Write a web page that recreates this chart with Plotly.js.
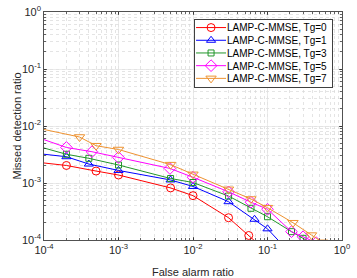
<!DOCTYPE html>
<html>
<head>
<meta charset="utf-8">
<script src="https://cdn.plot.ly/plotly-3.0.1.min.js"></script>
<style>html,body{margin:0;padding:0;background:#fff;}#chart{width:357px;height:278px;}</style>
</head>
<body>
<div id="chart"></div>
<script>
// Series data (false alarm ratio, missed detection ratio); first/last points lie just outside the axes
const seriesNames = ['LAMP-C-MMSE, Tg=0','LAMP-C-MMSE, Tg=1','LAMP-C-MMSE, Tg=3','LAMP-C-MMSE, Tg=5','LAMP-C-MMSE, Tg=7'];
const faTg0 = [8e-5, 2e-4, 5e-4, 1e-3, 5e-3, 1e-2, 3e-2, 5.6e-2, 8e-2];
const mdTg0 = [2.32e-3, 2.03e-3, 1.62e-3, 1.38e-3, 8.2e-4, 6.0e-4, 2.46e-4, 1.2e-4, 7.9e-5];
const faTg1 = [8e-5, 2e-4, 4e-4, 1e-3, 5e-3, 1e-2, 3e-2, 6.7e-2, 1e-1, 2e-1];
const mdTg1 = [3.30e-3, 2.89e-3, 2.15e-3, 1.66e-3, 1.13e-3, 8.7e-4, 4.7e-4, 2.31e-4, 1.57e-4, 5.96e-5];
const faTg3 = [8e-5, 2e-4, 4e-4, 1e-3, 5e-3, 1e-2, 3e-2, 6e-2, 1e-1, 2.1e-1, 3e-1, 4e-1];
const mdTg3 = [4.46e-3, 3.19e-3, 2.71e-3, 2.07e-3, 1.20e-3, 1.02e-3, 5.9e-4, 3.6e-4, 2.56e-4, 1.40e-4, 1.07e-4, 8.6e-5];
const faTg5 = [8e-5, 2e-4, 4.4e-4, 1e-3, 4.9e-3, 1e-2, 3e-2, 6e-2, 1e-1, 2.1e-1, 3e-1, 4.5e-1];
const mdTg5 = [6.38e-3, 4.2e-3, 3.54e-3, 2.8e-3, 1.80e-3, 1.26e-3, 7.0e-4, 4.6e-4, 3.46e-4, 1.40e-4, 1.14e-4, 9.0e-5];
const faTg7 = [8e-5, 3e-4, 5e-4, 1e-3, 5e-3, 1e-2, 3e-2, 6e-2, 1e-1, 2.2e-1, 3.9e-1, 5.5e-1];
const mdTg7 = [9.25e-3, 6.41e-3, 4.51e-3, 3.87e-3, 2.10e-3, 1.42e-3, 7.75e-4, 5.24e-4, 3.69e-4, 2.01e-4, 1.22e-4, 9.1e-5];
const tickVals = [1e-4, 1e-3, 1e-2, 1e-1, 1];
const tickText = ['10<sup>-4</sup>','10<sup>-3</sup>','10<sup>-2</sup>','10<sup>-1</sup>','10<sup>0</sup>'];

const xs = [faTg0, faTg1, faTg3, faTg5, faTg7];
const ys = [mdTg0, mdTg1, mdTg3, mdTg5, mdTg7];
const colors = ['#ff0000', '#0000ff', '#22962a', '#ff00ff', '#ee9230'];
const symbols = ['circle-open', 'triangle-up-open', 'square-open', 'diamond-open', 'triangle-down-open'];
const sizes = [8, 8, 6, 9, 9];

const traces = xs.map((x, i) => ({
  x: x, y: ys[i], name: seriesNames[i], type: 'scatter', mode: 'lines+markers',
  line: {color: colors[i], width: 1},
  marker: {symbol: symbols[i], size: sizes[i], color: colors[i], line: {color: colors[i], width: 1}},
  cliponaxis: true
}));

const axisCommon = {
  type: 'log',
  tickmode: 'array', tickvals: tickVals, ticktext: tickText,
  ticks: 'inside', ticklen: 3, tickcolor: '#262626', tickwidth: 0.7,
  showline: true, linecolor: '#262626', linewidth: 0.8, mirror: 'ticks',
  showgrid: true, gridcolor: '#e3e3e3', gridwidth: 0.7,
  zeroline: false,
  tickfont: {family: 'Liberation Sans, Arial, sans-serif', size: 11, color: '#262626'},
  minor: {tickmode: 'linear', dtick: 'D1', ticks: 'inside', ticklen: 2, tickcolor: '#262626',
          showgrid: true, gridcolor: '#d8d8d8', griddash: 'dot', gridwidth: 0.7}
};

const layout = {
  width: 357, height: 278,
  margin: {l: 44, r: 15, t: 12, b: 38},
  paper_bgcolor: '#ffffff', plot_bgcolor: '#ffffff',
  font: {family: 'Liberation Sans, Arial, sans-serif', size: 10, color: '#262626'},
  xaxis: Object.assign({}, axisCommon, {range: [-4, 0],
    title: {text: 'False alarm ratio', font: {size: 11, color: '#262626'}, standoff: 16}}),
  yaxis: Object.assign({}, axisCommon, {range: [-4, 0],
    title: {text: 'Missed detection ratio', font: {size: 11, color: '#262626'}, standoff: 1}}),
  showlegend: true,
  legend: {x: 0.97, y: 0.969, xanchor: 'right', yanchor: 'top',
    bgcolor: '#ffffff', bordercolor: '#404040', borderwidth: 1,
    font: {family: 'Liberation Sans, Arial, sans-serif', size: 10, color: '#000000'}, tracegroupgap: 0, itemwidth: 30}
};

const ROW_H = 12.7;
const LEGEND_H = 68;
const LEGEND_TRIM_LEFT = 8;
const SYMBOL_SHIFT = 4;
Plotly.newPlot('chart', traces, layout, {staticPlot: true, displayModeBar: false}).then(() => {
  // tighten legend spacing to match the reference
  const lg = document.querySelector('g.legend');
  if (lg) {
    const items = Array.from(lg.querySelectorAll('g.traces'));
    const parse = g => {
      const m = /translate\(\s*([-\d.]+)[ ,]+([-\d.]+)\s*\)/.exec(g.getAttribute('transform') || '');
      return m ? [parseFloat(m[1]), parseFloat(m[2])] : [0, 0];
    };
    if (items.length) {
      const p0 = parse(items[0]);
      items.forEach((g, i) => {
        const p = parse(g);
        g.setAttribute('transform', 'translate(' + p[0] + ',' + (p0[1] - 7 + i * ROW_H) + ')');
        const layers = g.querySelector('g.layers');
        if (layers) layers.setAttribute('transform', 'translate(' + SYMBOL_SHIFT + ',0)');
      });
    }
    const bg = lg.querySelector('rect.bg');
    if (bg) {
      bg.setAttribute('height', LEGEND_H);
      const bx = parseFloat(bg.getAttribute('x') || '0');
      const bw = parseFloat(bg.getAttribute('width'));
      bg.setAttribute('x', bx + LEGEND_TRIM_LEFT);
      bg.setAttribute('width', bw - LEGEND_TRIM_LEFT);
    }
  }
  // nudge y-axis title closer to tick labels
  const yt = document.querySelector('.ytitle');
  if (yt) yt.setAttribute('transform', 'translate(4,0) ' + (yt.getAttribute('transform') || ''));
});
</script>
</body>
</html>
